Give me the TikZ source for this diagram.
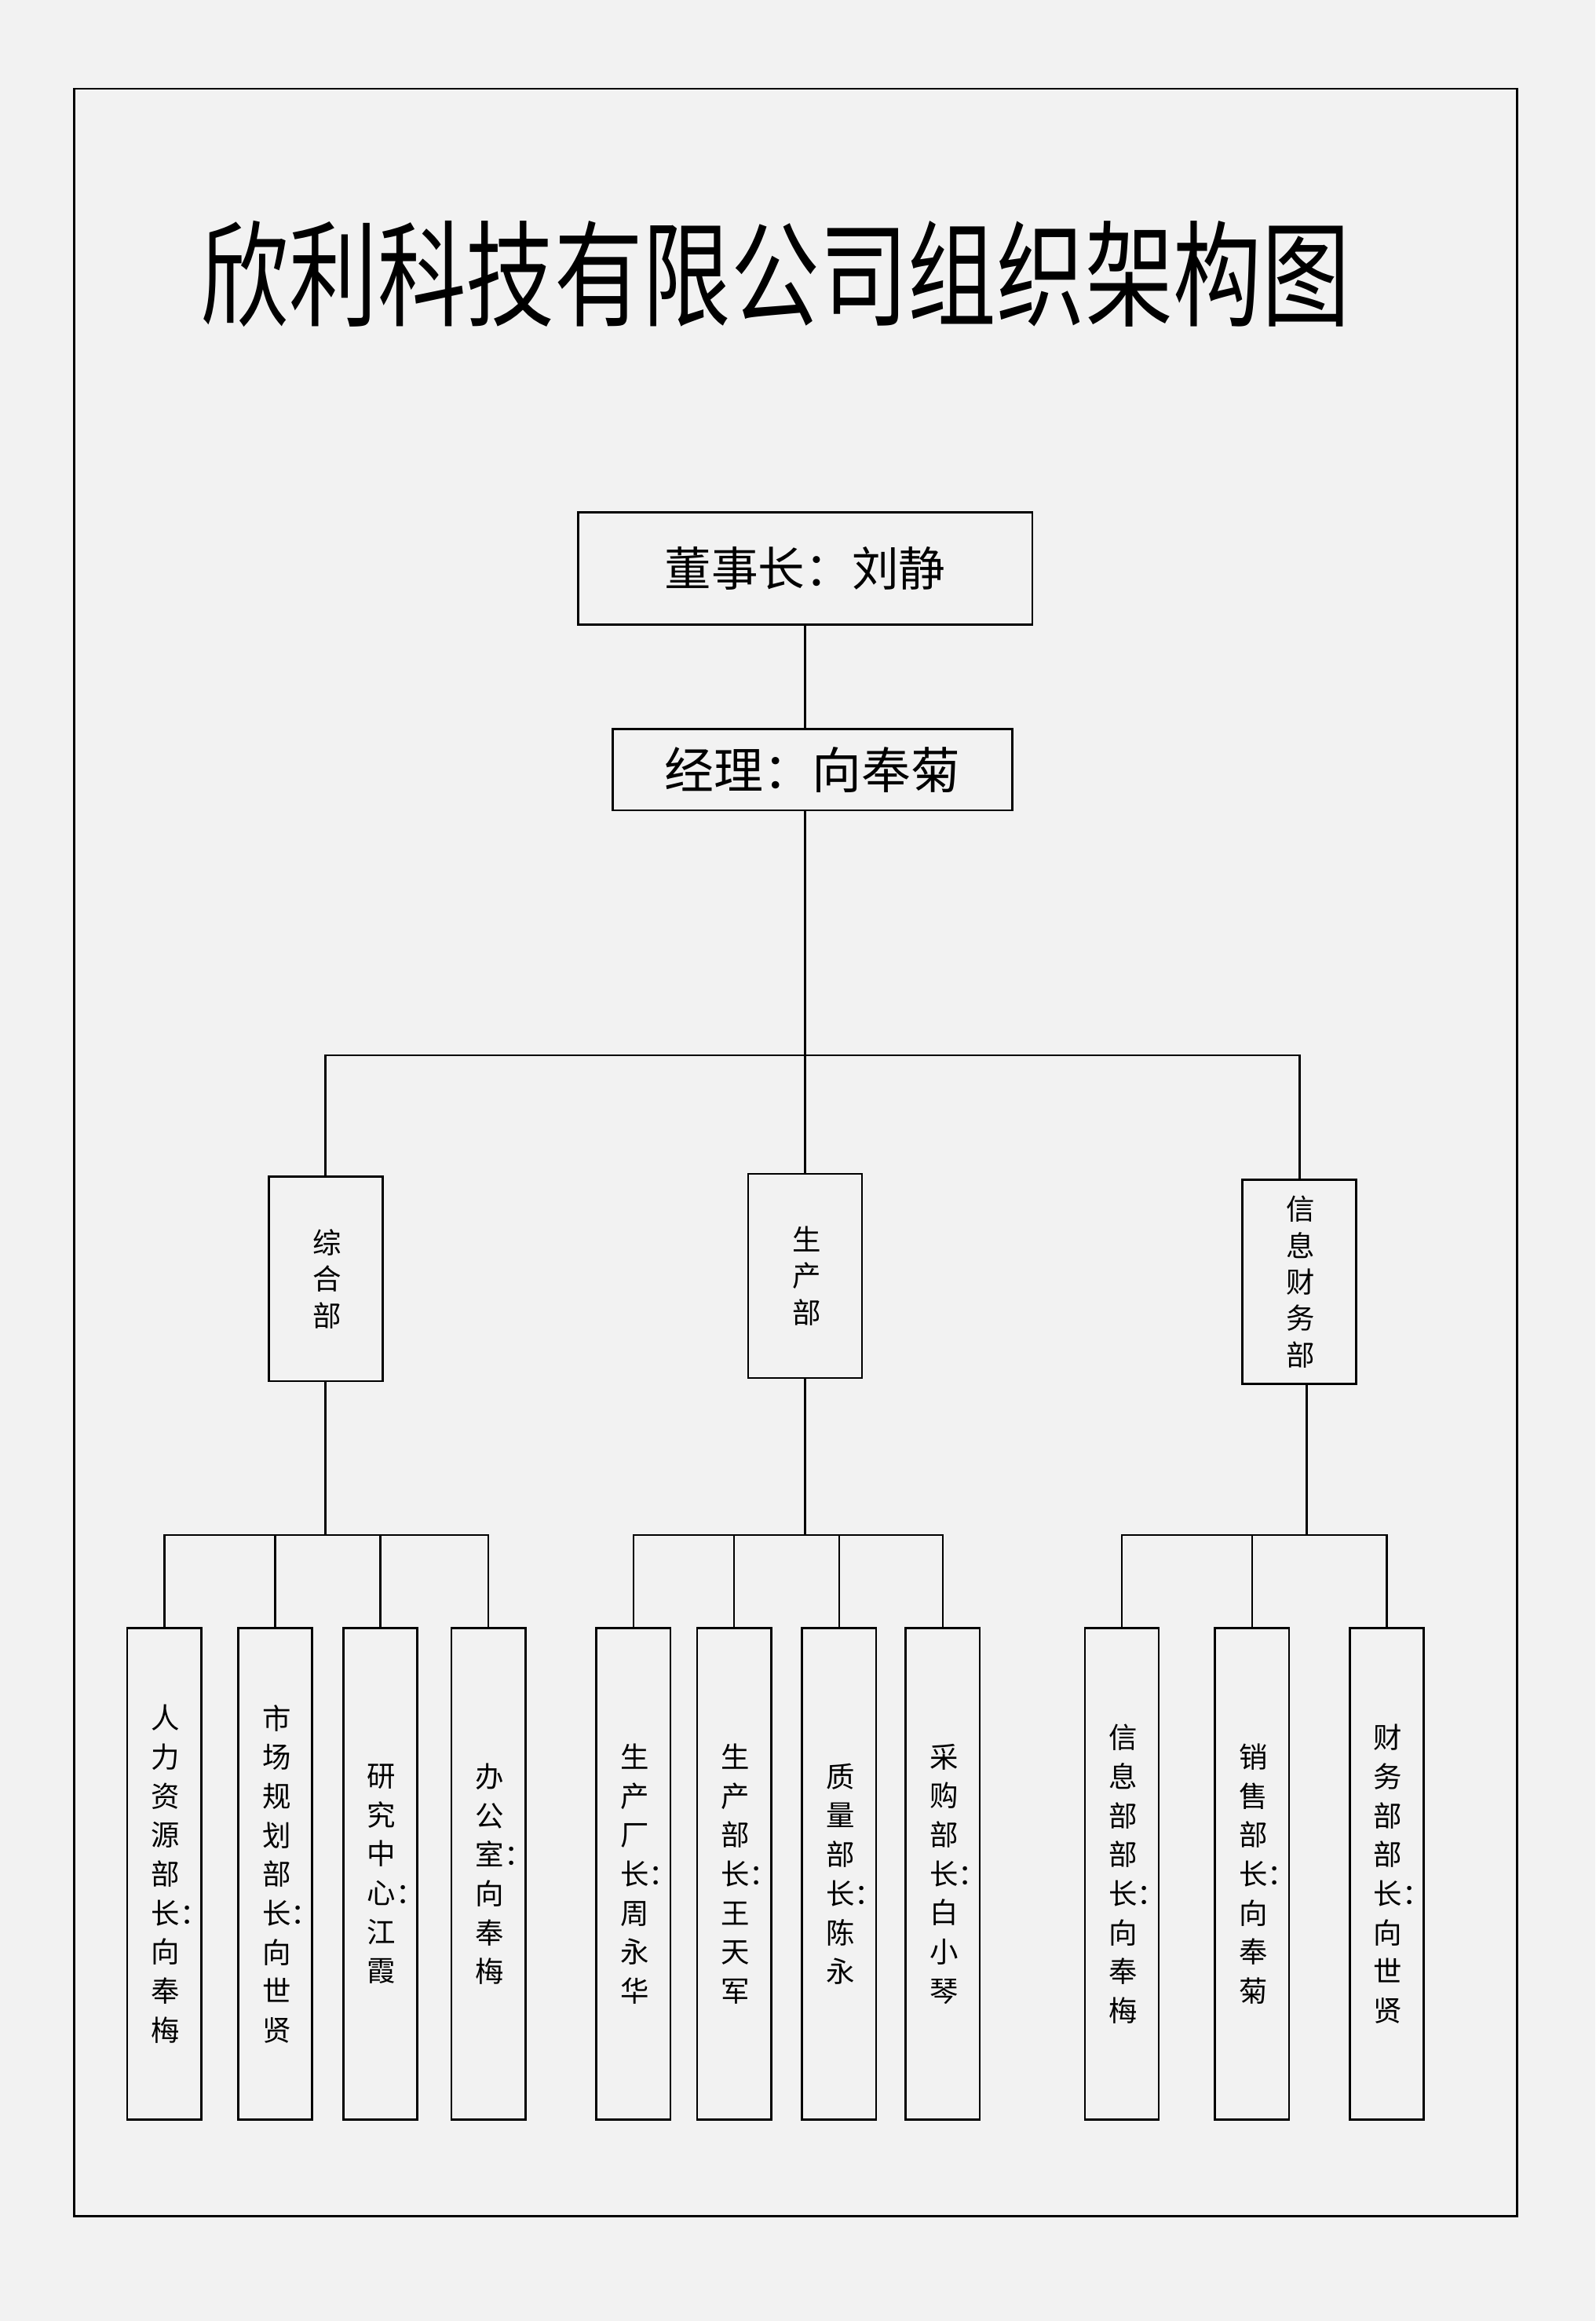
\documentclass[tikz,border=0pt]{standalone}
\usepackage{fontspec}
\setmainfont{Noto Sans CJK SC}
\XeTeXlinebreaklocale "zh"
\XeTeXlinebreakskip=0pt plus 1pt
\usetikzlibrary{positioning}
\tikzset{
  topbox/.style={draw, thick, inner sep=0pt},
  deptbox/.style={draw, thick, minimum width=1.54cm, minimum height=2.76cm, text width=1em, align=center, font=\fontsize{11}{14}\selectfont},
  leafbox/.style={draw, thick, minimum width=1cm, minimum height=6.64cm, text width=1em, align=center, font=\fontsize{11}{15}\selectfont},
  link/.style={thick}
}
\begin{document}
\begin{tikzpicture}[x=0.02cm, y=-0.02cm]
	%%%% paper and frame
	\useasboundingbox[fill=black!5] (0,0) rectangle (1078,1568);
	\draw[thick] (50,60) rectangle (1025,1497);
	\node (title) at (524,185) {\fontsize{34}{34}\selectfont\scalebox{1}[1.3]{欣利科技有限公司组织架构图}};

	%%%% top of the chart
	\node[topbox, minimum width=6.14cm, minimum height=1.52cm] (chair) at (544,384) {\fontsize{18}{18}\selectfont 董事长：刘静};
	\node[topbox, minimum width=5.4cm, minimum height=1.1cm] (mgr) at (549,520) {\fontsize{19}{19}\selectfont 经理：向奉菊};
	\draw[link] (chair.south) -- (chair.south |- mgr.north);
	\coordinate (bTop) at (544,713);
	\draw[link] (mgr.south -| bTop) -- (bTop);

	%%%% departments
	\node[deptbox] (zonghe) at (220,864) {综合部};
	\node[deptbox] (shengchan) at (544,862) {生产部};
	\node[deptbox] (xinxi) at (878,866) {信息财务部};
	\foreach \d in {zonghe, shengchan, xinxi}
		\draw[link] (\d.north) |- (bTop);

	\coordinate (bL) at (220,1037);
	\coordinate (bM) at (544,1037);
	\coordinate (bR) at (883,1037);
	\draw[link] (zonghe.south) -- (bL);
	\draw[link] (shengchan.south) -- (bM);
	\draw[link] (xinxi.south -| bR) -- (bR);

	%%%% leaves
	\foreach \n/\x/\b/\t in {
		l1/111/bL/人力资源部长：向奉梅, l2/186/bL/市场规划部长：向世贤,
		l3/257/bL/研究中心：江霞, l4/330/bL/办公室：向奉梅,
		m1/428/bM/生产厂长：周永华, m2/496/bM/生产部长：王天军,
		m3/567/bM/质量部长：陈永, m4/637/bM/采购部长：白小琴,
		r1/758/bR/信息部部长：向奉梅, r2/846/bR/销售部长：向奉菊,
		r3/937/bR/财务部部长：向世贤}
	{
		\node[leafbox] (\n) at (\x,1266) {\t};
		\draw[link] (\n.north) |- (\b);
	}
\end{tikzpicture}
\end{document}
